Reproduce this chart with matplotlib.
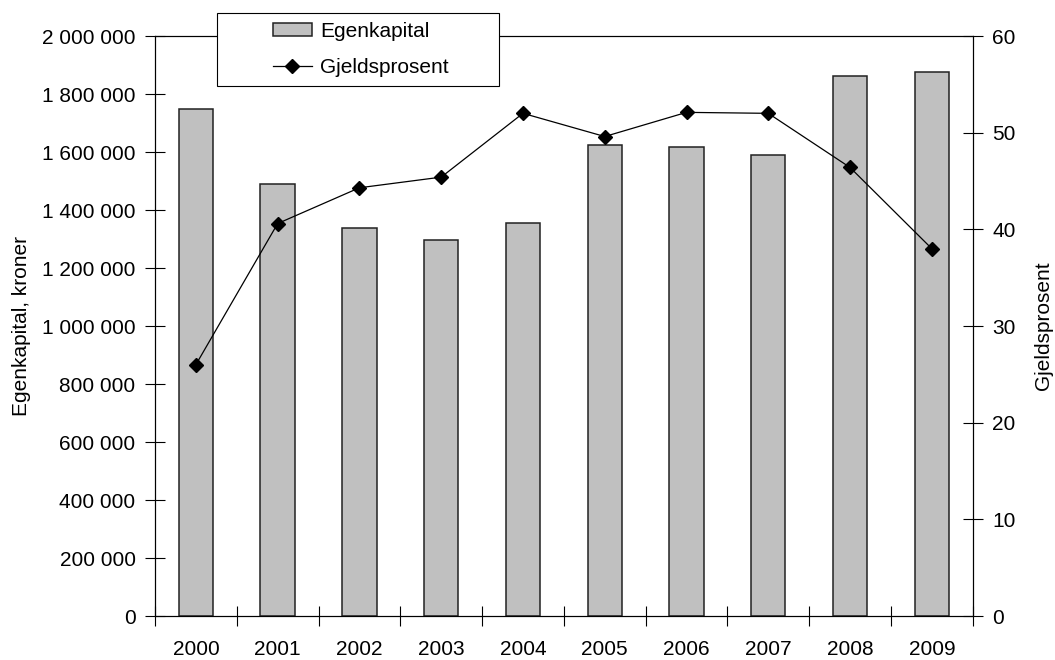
import matplotlib
matplotlib.use("Agg")
import matplotlib.pyplot as plt
from matplotlib.patches import Rectangle
import numpy as np

years = ["2000", "2001", "2002", "2003", "2004", "2005", "2006", "2007", "2008", "2009"]
egenkapital = [1748000, 1491000, 1337000, 1296000, 1356000, 1623000, 1618000, 1590000, 1861000, 1876000]
gjeldsprosent = [26.0, 40.6, 44.3, 45.4, 52.0, 49.6, 52.1, 52.0, 46.4, 38.0]
left_ticks = [0, 200000, 400000, 600000, 800000, 1000000, 1200000, 1400000, 1600000, 1800000, 2000000]
left_labels = ["0", "200 000", "400 000", "600 000", "800 000", "1 000 000", "1 200 000",
               "1 400 000", "1 600 000", "1 800 000", "2 000 000"]
right_ticks = [0, 10, 20, 30, 40, 50, 60]

plt.rcParams['font.family'] = ['Liberation Sans', 'DejaVu Sans']
FS = 15

W, H = 1055, 660
fig = plt.figure(figsize=(W / 100, H / 100), dpi=100)
ax = fig.add_axes([155 / W, 1 - 616 / H, (972.7 - 155) / W, (616 - 36) / H])
ax2 = ax.twinx()

x = np.arange(len(years))
bars = ax.bar(x, egenkapital, width=0.42, color="#C0C0C0", edgecolor="#222222",
              linewidth=1.1, label="Egenkapital", zorder=2)
line, = ax2.plot(x, gjeldsprosent, color="black", linewidth=0.9, marker="D",
                 markersize=7, markerfacecolor="black", markeredgecolor="black",
                 label="Gjeldsprosent", zorder=3)

ax.set_xlim(-0.5, len(years) - 0.5)
ax.set_ylim(0, 2000000)
ax2.set_ylim(0, 60)

ax.set_yticks(left_ticks)
ax.set_yticklabels(left_labels, fontsize=FS)
ax2.set_yticks(right_ticks)
ax2.set_yticklabels([str(v) for v in right_ticks], fontsize=FS)

ax.set_xticks(x)
ax.set_xticklabels(years, fontsize=FS)
ax.set_xticks(np.arange(-0.5, len(years), 1.0), minor=True)
ax.tick_params(axis="x", which="major", length=0, pad=17)
ax.tick_params(axis="x", which="minor", length=14, direction="inout", width=0.8)
ax.tick_params(axis="y", length=14, direction="inout", width=0.8, pad=7)
ax2.tick_params(axis="y", length=14, direction="inout", width=0.8, pad=7)

for a in (ax, ax2):
    for s in a.spines.values():
        s.set_linewidth(0.8)
        s.set_color("black")

ax.set_ylabel("Egenkapital, kroner", fontsize=FS, labelpad=8)
ax2.set_ylabel("Gjeldsprosent", fontsize=FS, labelpad=13)

# legend frame
frame = Rectangle((217 / W, 1 - 86 / H), (499 - 217) / W, (86 - 12.7) / H,
                  transform=fig.transFigure, facecolor="white", edgecolor="black",
                  linewidth=0.8, zorder=4)
fig.patches.append(frame)
leg = fig.legend([bars, line], ["Egenkapital", "Gjeldsprosent"], loc="upper left",
                 bbox_to_anchor=(273 / W, 1 - 22 / H), frameon=False, fontsize=FS,
                 borderpad=0, borderaxespad=0, handlelength=1.85, handletextpad=0.4,
                 labelspacing=0.8, handleheight=0.6)
leg.set_zorder(5)

fig.savefig("out.png", dpi=100)
